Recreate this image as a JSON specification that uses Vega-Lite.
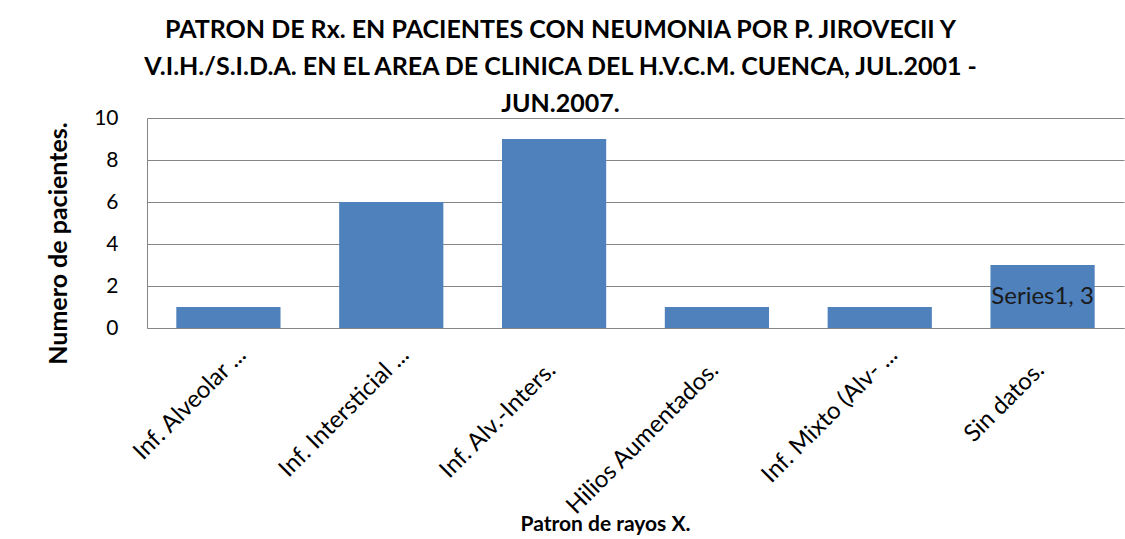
{
  "$schema": "https://vega.github.io/schema/vega-lite/v6.json",
  "width": 977,
  "height": 210,
  "autosize": {"type": "none"},
  "padding": {"left": 147, "top": 118, "right": 1, "bottom": 211},
  "background": "white",
  "config": {
    "font": "Lato",
    "view": {"stroke": null}
  },
  "title": {
    "text": ["PATRON DE Rx. EN PACIENTES CON NEUMONIA POR P. JIROVECII Y", "V.I.H./S.I.D.A. EN EL AREA DE CLINICA DEL H.V.C.M. CUENCA, JUL.2001 -", "JUN.2007."],
    "font": "Lato",
    "fontSize": 25,
    "fontWeight": "bold",
    "color": "#000000",
    "lineHeight": 37,
    "anchor": "middle",
    "offset": -10,
    "dx": -75
  },
  "data": {
    "values": [
      {"patron": "Inf. Alveolar ...", "pacientes": 1},
      {"patron": "Inf. Intersticial ...", "pacientes": 6},
      {"patron": "Inf. Alv.-Inters.", "pacientes": 9},
      {"patron": "Hilios Aumentados.", "pacientes": 1},
      {"patron": "Inf. Mixto (Alv- ...", "pacientes": 1},
      {"patron": "Sin datos.", "pacientes": 3}
    ]
  },
  "encoding": {
    "x": {
      "field": "patron",
      "type": "nominal",
      "sort": null,
      "scale": {"paddingInner": 0.36, "paddingOuter": 0.18},
      "axis": {
        "title": "Patron de rayos X.",
        "titleFont": "Lato",
        "titleFontSize": 21,
        "titleFontWeight": "bold",
        "titleColor": "#000000",
        "titleX": 458,
        "titleY": 202,
        "titleBaseline": "alphabetic",
        "titleAlign": "center",
        "labelAngle": -45,
        "labelAlign": "right",
        "labelBaseline": "middle",
        "labelFont": "Lato",
        "labelFontSize": 24,
        "labelColor": "#000000",
        "labelPadding": {"condition": {"test": "indexof(datum.value, '...') >= 0", "value": 23}, "value": 38},
        "labelOffset": {"condition": {"test": "indexof(datum.value, '...') >= 0", "value": 14}, "value": -2},
        "labelLimit": 0,
        "labelOverlap": false,
        "ticks": false,
        "domainColor": "#868686",
        "domainWidth": 1
      }
    },
    "y": {
      "field": "pacientes",
      "type": "quantitative",
      "scale": {"domain": [0, 10]},
      "axis": {
        "title": "Numero de pacientes.",
        "titleFont": "Lato",
        "titleFontSize": 25,
        "titleFontWeight": "bold",
        "titleColor": "#000000",
        "titleX": -81,
        "titleY": 125,
        "titleAngle": -90,
        "titleBaseline": "alphabetic",
        "titleAlign": "center",
        "values": [0, 2, 4, 6, 8, 10],
        "labelFont": "Lato",
        "labelFontSize": 21,
        "labelColor": "#000000",
        "labelPadding": 29,
        "ticks": false,
        "grid": true,
        "gridColor": "#868686",
        "gridWidth": 1,
        "domainColor": "#868686",
        "domainWidth": 1
      }
    }
  },
  "layer": [
    {
      "mark": {"type": "bar", "color": "#4F81BD"}
    },
    {
      "transform": [{"filter": "datum.patron === 'Sin datos.'"}],
      "mark": {"type": "text", "font": "Lato", "fontSize": 24, "color": "#1a1a1a", "baseline": "middle", "align": "center", "dy": 32},
      "encoding": {
        "text": {"value": "Series1, 3"}
      }
    }
  ]
}
